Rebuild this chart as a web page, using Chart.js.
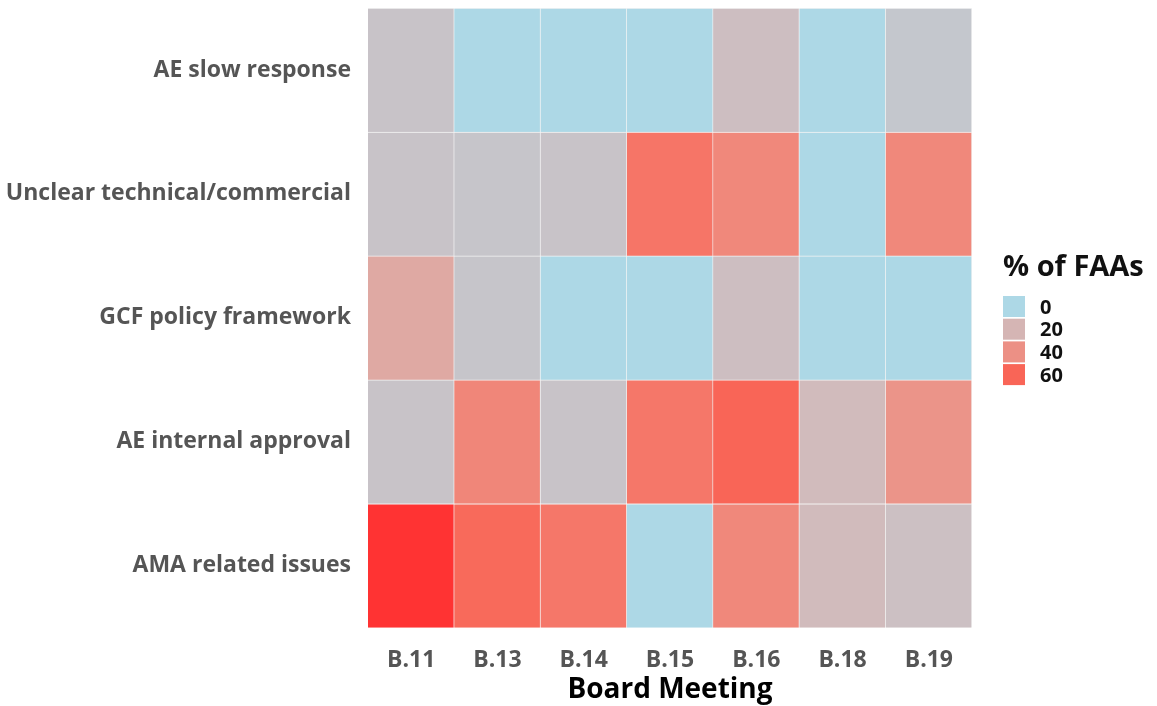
<!DOCTYPE html>
<html>
<head>
<meta charset="utf-8">
<script src="https://cdn.jsdelivr.net/npm/chart.js@4.4.0/dist/chart.umd.min.js"></script>
<style>
  html, body { margin: 0; padding: 0; background: #ffffff; }
  #wrap { width: 1157px; height: 706px; }
</style>
</head>
<body>
<div id="wrap"><canvas id="faaChart"></canvas></div>
<script>
// Board meetings (columns) and issue types (rows, top to bottom)
var meetings = ['B.11', 'B.13', 'B.14', 'B.15', 'B.16', 'B.18', 'B.19'];
var issues = ['AE slow response', 'Unclear technical/commercial', 'GCF policy framework', 'AE internal approval', 'AMA related issues'];

// % of FAAs per issue, one value per meeting
var aeSlowResponse   = [12, 0, 0, 0, 15, 0, 10];
var unclearTechComm  = [12, 11, 12, 53, 44, 0, 44];
var gcfPolicy        = [27, 11, 0, 0, 15, 0, 0];
var aeInternal       = [12, 45, 12, 52, 60, 17, 38];
var amaIssues        = [76, 58, 52, 0, 44, 17, 14];

var legendValues = [0, 20, 40, 60];
var scaleMax = 76;

// colour ramp lightblue -> red, interpolated in Lab like ggplot does
function toLinear(c) {
  c = c / 255;
  return c <= 0.04045 ? c / 12.92 : Math.pow((c + 0.055) / 1.055, 2.4);
}
function fromLinear(c) {
  var v = c <= 0.0031308 ? 12.92 * c : 1.055 * Math.pow(c, 1 / 2.4) - 0.055;
  return Math.max(0, Math.min(255, Math.round(v * 255)));
}
var Xn = 0.95047, Yn = 1.0, Zn = 1.08883;
function rgbToLab(rgb) {
  var r = toLinear(rgb[0]), g = toLinear(rgb[1]), b = toLinear(rgb[2]);
  var x = (r * 0.4124 + g * 0.3576 + b * 0.1805) / Xn;
  var y = (r * 0.2126 + g * 0.7152 + b * 0.0722) / Yn;
  var z = (r * 0.0193 + g * 0.1192 + b * 0.9505) / Zn;
  function f(t) { return t > 0.008856 ? Math.cbrt(t) : 7.787 * t + 16 / 116; }
  var fx = f(x), fy = f(y), fz = f(z);
  return [116 * fy - 16, 500 * (fx - fy), 200 * (fy - fz)];
}
function labToRgb(lab) {
  var fy = (lab[0] + 16) / 116, fx = fy + lab[1] / 500, fz = fy - lab[2] / 200;
  function fi(t) { return t > 0.206893 ? t * t * t : (t - 16 / 116) / 7.787; }
  var x = fi(fx) * Xn, y = fi(fy) * Yn, z = fi(fz) * Zn;
  var r = x * 3.2406 + y * -1.5372 + z * -0.4986;
  var g = x * -0.9689 + y * 1.8758 + z * 0.0415;
  var b = x * 0.0557 + y * -0.2040 + z * 1.0570;
  return 'rgb(' + fromLinear(r) + ',' + fromLinear(g) + ',' + fromLinear(b) + ')';
}
var lowLab = rgbToLab([173, 216, 230]);
var highLab = rgbToLab([255, 51, 51]);
function fillColor(v) {
  var t = Math.max(0, Math.min(1, v / scaleMax));
  return labToRgb([
    lowLab[0] + (highLab[0] - lowLab[0]) * t,
    lowLab[1] + (highLab[1] - lowLab[1]) * t,
    lowLab[2] + (highLab[2] - lowLab[2]) * t
  ]);
}

// rows stacked from the bottom up
var rowValues = [amaIssues, aeInternal, gcfPolicy, unclearTechComm, aeSlowResponse];
var rowNames = issues.slice().reverse();

var datasets = rowValues.map(function (vals, i) {
  return {
    label: rowNames[i],
    data: meetings.map(function () { return 1; }),
    backgroundColor: vals.map(fillColor),
    borderColor: '#f4f4f4',
    borderWidth: { top: 1, right: 1, bottom: 0, left: 0 },
    borderSkipped: false,
    barPercentage: 1,
    categoryPercentage: 1
  };
});

// legend drawn beside the plot: title plus one swatch per break
var fillLegend = {
  id: 'fillLegend',
  afterDraw: function (chart) {
    var c = chart.ctx;
    var area = chart.chartArea;
    var x = area.right + 31;
    var top = 296;
    c.save();
    c.fillStyle = '#111111';
    c.textAlign = 'left';
    c.textBaseline = 'middle';
    c.font = 'bold 29px "Open Sans"';
    c.fillText('% of FAAs', x, 268);
    c.font = 'bold 20px "Open Sans"';
    legendValues.forEach(function (v, i) {
      var y = top + i * 22.7;
      c.fillStyle = fillColor(v);
      c.fillRect(x, y, 22, 21);
      c.fillStyle = '#111111';
      c.fillText(String(v), x + 37, y + 12);
    });
    c.restore();
  }
};

var tickFont = { family: 'Open Sans', size: 23, weight: 'bold' };

var ctx = document.getElementById('faaChart').getContext('2d');
var faaChart = new Chart(ctx, {
  type: 'bar',
  data: { labels: meetings, datasets: datasets },
  plugins: [fillLegend],
  options: {
    responsive: true,
    maintainAspectRatio: false,
    animation: false,
    layout: { padding: { top: 8, right: 185, bottom: -1, left: 4 } },
    plugins: {
      tooltip: { enabled: false },
      legend: { display: false }
    },
    scales: {
      x: {
        stacked: true,
        grid: { display: false, drawTicks: false },
        border: { display: false },
        ticks: { color: '#555555', font: tickFont, padding: 19 },
        title: {
          display: true,
          text: 'Board Meeting',
          color: '#000000',
          font: { family: 'Open Sans', size: 28, weight: 'bold' },
          padding: { top: -20, bottom: 0 }
        }
      },
      y: {
        stacked: true,
        min: 0,
        max: rowNames.length,
        grid: { display: false, drawTicks: false },
        border: { display: false },
        afterBuildTicks: function (scale) {
          scale.ticks = rowNames.map(function (n, i) { return { value: i + 0.5 }; });
        },
        afterFit: function (scale) {
          scale.width = 364;
          // labels sit at row centres, so no extra room is needed above or below
          scale.paddingTop = 0;
          scale.paddingBottom = 0;
        },
        ticks: {
          color: '#555555',
          font: tickFont,
          padding: 17,
          autoSkip: false,
          callback: function (value) {
            return rowNames[Math.floor(value)];
          }
        }
      }
    }
  }
});
</script>
</body>
</html>
